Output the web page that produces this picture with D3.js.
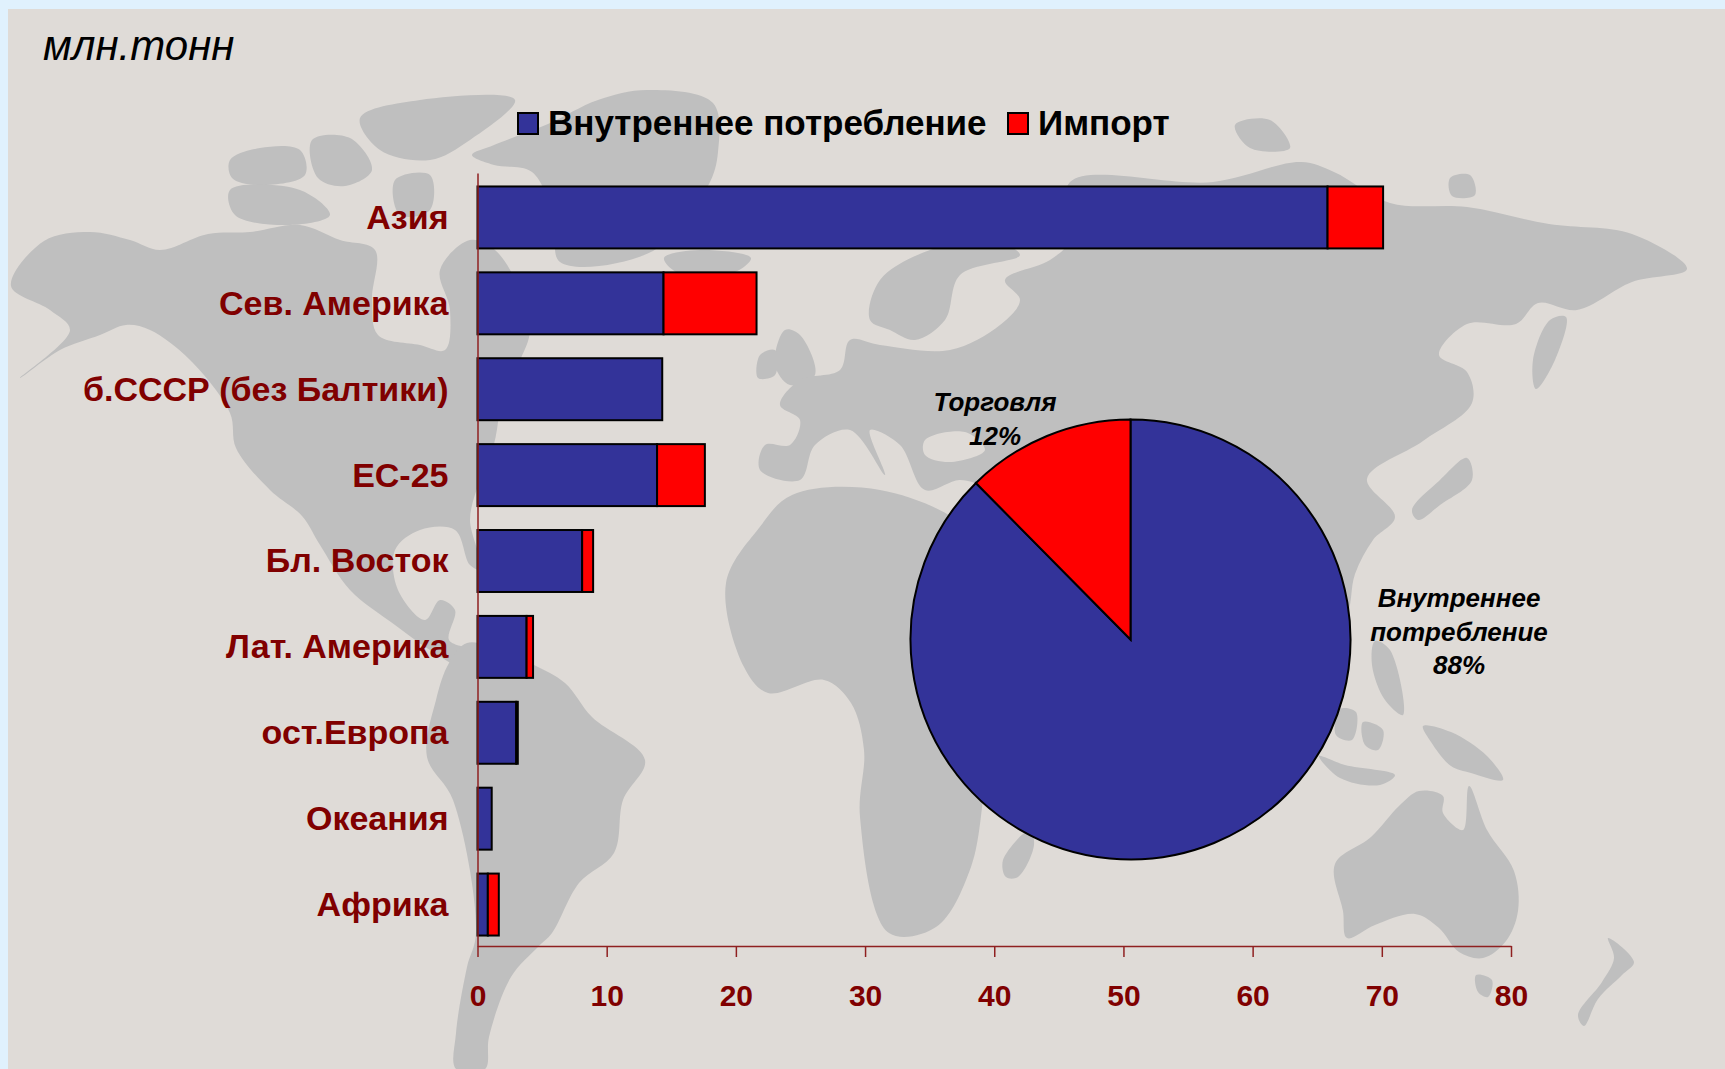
<!DOCTYPE html>
<html lang="ru">
<head>
<meta charset="utf-8">
<title>Потребление, млн. тонн</title>
<script src="https://d3js.org/d3.v7.min.js"></script>
<style>
  html, body { margin: 0; padding: 0; background: #e0f1fd; }
  svg { display: block; }
  text { font-family: "Liberation Sans", Arial, sans-serif; }
  .axis text { fill: #800000; font-weight: bold; }
  .axis path, .axis line { stroke: #8f2020; stroke-width: 1.5; }
  .pie-label { font-weight: bold; font-style: italic; font-size: 26px; fill: #000; text-anchor: middle; }
</style>
</head>
<body>
<script>
// chart values
const regions = ["Азия", "Сев. Америка", "б.СССР (без Балтики)", "ЕС-25", "Бл. Восток", "Лат. Америка", "ост.Европа", "Океания", "Африка"];
const domestic = [65.8, 14.4, 14.3, 13.9, 8.1, 3.8, 3.0, 1.1, 0.8];
const imports = [4.3, 7.2, 0, 3.7, 0.85, 0.5, 0.12, 0, 0.85];
const xTicks = [0, 10, 20, 30, 40, 50, 60, 70, 80];
const seriesNames = ["Внутреннее потребление", "Импорт"];
const seriesColors = ["#333399", "#ff0000"];
const pieNames = [["Внутреннее", "потребление"], ["Торговля"]];
const pieValues = [87.6, 12.4];

const w = 1725;
const h = 1069;

// background world map, rough outlines only (decoration, not data)
const land = [
  // North America
  [[11,286],[44,241],[90,232],[130,240],[160,250],[208,234],[250,232],[300,225],[340,240],[375,250],[372,300],[378,335],[420,345],[445,350],[450,310],[440,270],[470,240],[495,250],[520,290],[530,330],[521,358],[505,385],[494,444],[480,480],[470,520],[482,570],[470,565],[455,530],[420,530],[395,550],[398,590],[425,620],[440,600],[455,610],[449,640],[467,650],[460,665],[430,650],[395,625],[350,590],[320,545],[302,516],[270,490],[236,448],[230,413],[190,360],[150,330],[126,325],[100,335],[60,350],[20,378],[70,330],[50,310]],
  // South America
  [[449,663],[467,643],[500,650],[534,665],[565,683],[592,717],[645,760],[623,800],[614,853],[579,883],[552,933],[538,947],[511,977],[489,1037],[485,1069],[456,1069],[456,1033],[467,967],[476,933],[453,800],[427,757],[436,700]],
  // Greenland
  [[472,155],[494,145],[548,124],[598,100],[647,90],[713,103],[718,152],[708,186],[653,251],[560,262],[554,220],[532,172],[494,165]],
  // Arctic islands
  [[230,160],[260,148],[300,150],[305,175],[260,185],[232,178]],
  [[312,140],[350,138],[372,170],[345,186],[318,178]],
  [[360,118],[420,100],[515,100],[470,140],[430,160],[380,150]],
  [[230,190],[300,190],[330,215],[290,225],[235,215]],
  [[395,180],[430,175],[430,210],[400,215]],
  // Iceland, Britain, Svalbard and others
  [[664,258],[700,250],[751,258],[735,272],[680,274]],
  [[785,330],[800,335],[815,375],[790,385],[775,365]],
  [[760,355],[775,350],[775,375],[758,378]],
  [[1235,125],[1270,120],[1290,148],[1250,148]],
  [[1450,178],[1470,175],[1475,195],[1452,196]],
  // Scandinavia
  [[870,320],[880,280],[930,250],[990,240],[1020,255],[960,275],[945,320],[915,340],[890,330]],
  // Eurasia
  [[760,470],[765,445],[790,445],[800,420],[780,405],[800,380],[840,370],[850,340],[880,345],[950,350],[1000,325],[1020,300],[1005,280],[1050,260],[1070,240],[1070,182],[1213,182],[1301,162],[1334,172],[1390,203],[1467,207],[1549,224],[1632,234],[1687,269],[1632,282],[1577,310],[1538,303],[1516,324],[1467,324],[1439,355],[1467,372],[1472,403],[1423,441],[1367,479],[1395,517],[1373,540],[1355,574],[1345,620],[1300,660],[1260,640],[1200,620],[1120,600],[1060,560],[1000,540],[985,490],[960,480],[925,490],[900,445],[870,430],[885,475],[850,430],[815,445],[800,480]],
  // Africa
  [[726,583],[759,528],[792,495],[880,490],[968,528],[1010,590],[1060,620],[1020,680],[990,760],[971,867],[936,927],[889,933],[860,817],[864,750],[851,703],[824,680],[768,693],[744,667]],
  [[1003,860],[1030,830],[1034,845],[1018,877],[1006,877]],
  // Australia and Oceania
  [[1335,864],[1371,837],[1399,806],[1419,791],[1443,796],[1443,813],[1463,830],[1469,786],[1487,830],[1514,871],[1518,911],[1506,941],[1483,958],[1459,952],[1439,928],[1415,914],[1375,925],[1347,938],[1343,911]],
  [[1476,975],[1492,980],[1488,997],[1478,992]],
  [[1608,938],[1634,962],[1622,975],[1598,999],[1584,1026],[1578,1015],[1602,982],[1614,958]],
  [[1423,726],[1451,732],[1487,756],[1503,780],[1471,773],[1451,766],[1431,742]],
  // Japan, Sakhalin, Philippines, Indonesia
  [[1412,510],[1440,480],[1467,458],[1472,480],[1440,505],[1418,520]],
  [[1533,360],[1550,320],[1566,317],[1555,360],[1536,389]],
  [[1375,641],[1390,650],[1403,715],[1385,700],[1372,665]],
  [[1340,709],[1356,712],[1352,740],[1336,735]],
  [[1363,722],[1383,730],[1378,750],[1365,745]],
  [[1319,756],[1345,765],[1395,775],[1380,785],[1340,778]]
];
const seas = [
  [[925,440],[965,432],[985,450],[950,462],[925,455]]
];

const svg = d3.select("body").append("svg")
  .attr("width", w)
  .attr("height", h);

svg.append("rect")
  .attr("x", 8).attr("y", 9)
  .attr("width", w - 8).attr("height", h - 9)
  .attr("fill", "#dfdbd7");

const outline = d3.line().curve(d3.curveCatmullRomClosed.alpha(0.5));
svg.append("g").selectAll("path").data(land).enter().append("path")
  .attr("d", outline)
  .attr("fill", "#bfbfbf");
svg.append("g").selectAll("path").data(seas).enter().append("path")
  .attr("d", outline)
  .attr("fill", "#dfdbd7");

// scales
const x = d3.scaleLinear().domain([0, 80]).range([477.5, 1511]);
const y = d3.scaleBand().domain(regions).range([173, 946]).paddingInner(0.267).paddingOuter(0.1335);
const rowShift = 2;

// stacked bars
const rows = regions.map((r, i) => ({ region: r, a: domestic[i], b: imports[i] }));
const stacked = d3.stack().keys(["a", "b"])(rows);

svg.append("g").selectAll("g").data(stacked).enter().append("g")
  .attr("fill", (d, i) => seriesColors[i])
  .selectAll("rect")
  .data(d => d.filter(p => p[1] > p[0]))
  .enter().append("rect")
  .attr("x", d => x(d[0]))
  .attr("y", d => y(d.data.region) + rowShift)
  .attr("width", d => x(d[1]) - x(d[0]))
  .attr("height", y.bandwidth() - 1)
  .attr("stroke", "#000")
  .attr("stroke-width", 2);

// axes
const xAxis = d3.axisBottom(x).tickValues(xTicks).tickSize(11).tickPadding(28).tickSizeOuter(0);
const gx = svg.append("g").attr("class", "axis")
  .attr("transform", "translate(0,946)")
  .call(xAxis);
gx.selectAll("text").style("font-size", "30px").attr("dy", "0.71em");

const yAxis = d3.axisLeft(y).tickSize(0).tickPadding(29);
const gy = svg.append("g").attr("class", "axis")
  .attr("transform", "translate(477.5,0)")
  .call(yAxis);
gy.selectAll("text").style("font-size", "34px").attr("y", rowShift);

// pie
const pie = d3.pie().sort(null).startAngle(0).endAngle(2 * Math.PI);
const arc = d3.arc().innerRadius(0).outerRadius(220);
const gp = svg.append("g").attr("transform", "translate(1130.5,639.5)");
gp.selectAll("path").data(pie(pieValues)).enter().append("path")
  .attr("d", arc)
  .attr("fill", (d, i) => seriesColors[i])
  .attr("stroke", "#000")
  .attr("stroke-width", 2);

const pct = d3.format(".0f");
const labelPos = [[1459, 607], [995, 411]];
pieNames.forEach((lines, i) => {
  const t = svg.append("text").attr("class", "pie-label");
  lines.concat(pct(pieValues[i]) + "%").forEach((s, j) => {
    t.append("tspan")
      .attr("x", labelPos[i][0])
      .attr("y", labelPos[i][1] + j * 33.5)
      .text(s);
  });
});

// legend
const legendPos = [[518, 548], [1008, 1038]];
seriesNames.forEach((s, i) => {
  svg.append("rect")
    .attr("x", legendPos[i][0]).attr("y", 113)
    .attr("width", 20).attr("height", 21)
    .attr("fill", seriesColors[i])
    .attr("stroke", "#000").attr("stroke-width", 2);
  svg.append("text")
    .attr("x", legendPos[i][1]).attr("y", 135)
    .attr("font-size", 35).attr("font-weight", "bold")
    .attr("fill", "#000")
    .text(s);
});

// unit label
svg.append("text")
  .attr("x", 43).attr("y", 60)
  .attr("font-size", 42).attr("font-style", "italic")
  .attr("fill", "#000")
  .text("млн.тонн");
</script>
</body>
</html>
